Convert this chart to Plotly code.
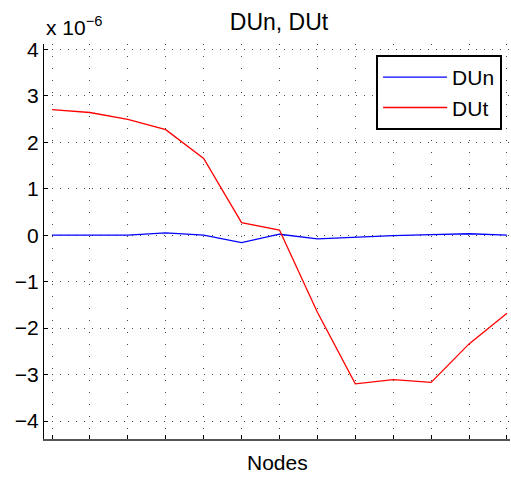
import plotly.graph_objects as go

nodes = list(range(1, 14))
scale = 1e-6
dun_e6 = [0.0, 0.0, 0.0, 0.05, 0.0, -0.16, 0.02, -0.08, -0.04, -0.01, 0.01, 0.03, 0.0]
dut_e6 = [2.70, 2.64, 2.49, 2.27, 1.65, 0.27, 0.11, -1.66, -3.20, -3.11, -3.17, -2.34, -1.68]
ytick_vals = [-4, -3, -2, -1, 0, 1, 2, 3, 4]
ytick_text = ["\u22124", "\u22123", "\u22122", "\u22121", "0", "1", "2", "3", "4"]

FONT = "Liberation Sans, Arial, sans-serif"
FS = 21

fig = go.Figure()
fig.add_trace(go.Scatter(x=nodes, y=[v * scale for v in dun_e6], mode="lines", name="DUn",
                         line=dict(color="#0000ff", width=1.3)))
fig.add_trace(go.Scatter(x=nodes, y=[v * scale for v in dut_e6], mode="lines", name="DUt",
                         line=dict(color="#ff0000", width=1.3)))

fig.update_layout(
    width=511, height=480,
    margin=dict(l=44, r=1, t=44, b=41),
    paper_bgcolor="white", plot_bgcolor="white",
    font=dict(family=FONT, size=FS, color="black"),
    title=dict(text="DUn, DUt", x=0.546, xanchor="center", y=0.955, yanchor="middle",
               font=dict(family=FONT, size=23, color="black")),
    showlegend=True,
    legend=dict(x=0.983, xanchor="right", y=0.972, yanchor="top",
                bordercolor="black", borderwidth=2, bgcolor="white",
                font=dict(family=FONT, size=FS, color="black"),
                itemwidth=64, tracegroupgap=0),
    xaxis=dict(range=[0.789, 13.08], tickvals=nodes, showticklabels=False,
               ticks="inside", ticklen=4, tickcolor="black",
               showline=True, linecolor="#555555", linewidth=2,
               showgrid=True, gridcolor="#444444", gridwidth=1, griddash="1px,11px",
               zeroline=False),
    yaxis=dict(range=[-4.387 * scale, 4.114 * scale],
               tickvals=[v * scale for v in ytick_vals], ticktext=ytick_text,
               ticks="inside", ticklen=4, tickcolor="black",
               showline=True, linecolor="black", linewidth=1,
               showgrid=True, gridcolor="#444444", gridwidth=1, griddash="1px,7px",
               zeroline=False, ticklabelstandoff=0),
    annotations=[
        dict(text="Nodes", xref="paper", yref="paper", x=0.5, y=-0.06,
             xanchor="center", yanchor="middle", showarrow=False,
             font=dict(family=FONT, size=FS, color="black")),
        dict(text="x 10<sup>\u22126</sup>", xref="paper", yref="paper", x=0.0, y=1.008,
             xanchor="left", yanchor="bottom", showarrow=False,
             font=dict(family=FONT, size=FS, color="black")),
    ],
)

fig.write_html("out.html")
